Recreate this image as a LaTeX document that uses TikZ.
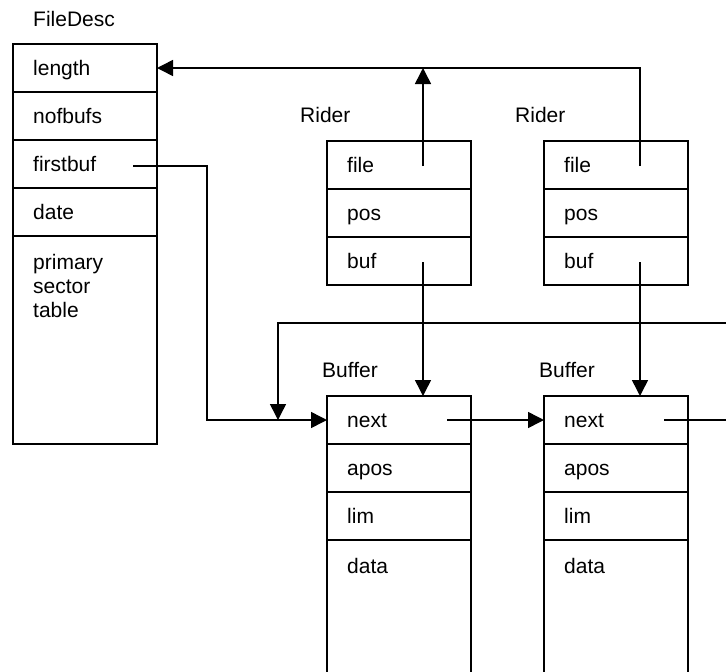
\documentclass[tikz,border=0pt]{standalone}
\usepackage{fontspec}
\setmainfont{Liberation Sans}
\usetikzlibrary{arrows.meta}
\begin{document}
\begin{tikzpicture}[x=1pt,y=-1pt,
  cell/.style={draw, line width=1.9pt, outer sep=0pt, inner sep=0pt,
    minimum width=144pt, minimum height=48pt, anchor=north west},
  boxline/.style={line width=1.9pt},
  txt/.style={anchor=base west, inner sep=0pt, font=\fontsize{21}{24}\selectfont},
  conn/.style={line width=1.5pt},
  arr/.style={conn, -{Triangle[length=16pt,width=16pt]}}]
\useasboundingbox (0,0) rectangle (726,672);
\clip (0,0) rectangle (726,672);

% ---------- FileDesc ----------
\node[txt] (fd-title) at (33,26) {FileDesc};
\node[cell] (fd-length) at (13,44) {};
\node[cell] (fd-nofbufs) at (13,92) {};
\node[cell] (fd-firstbuf) at (13,140) {};
\node[cell] (fd-date) at (13,188) {};
\node[cell, minimum height=208pt] (fd-table) at (13,236) {};
\node[txt] (fd-length-t) at (33,75) {length};
\node[txt] (fd-nofbufs-t) at (33,123) {nofbufs};
\node[txt] (fd-firstbuf-t) at (33,171) {firstbuf};
\node[txt] (fd-date-t) at (33,219) {date};
\node[txt] (fd-table-t1) at (33,269) {primary};
\node[txt] (fd-table-t2) at (33,293) {sector};
\node[txt] (fd-table-t3) at (33,317) {table};

% ---------- Riders ----------
\node[txt] (rl-title) at (300,122) {Rider};
\node[cell] (rl-file) at (327,141) {};
\node[cell] (rl-pos) at (327,189) {};
\node[cell] (rl-buf) at (327,237) {};
\node[txt] (rl-file-t) at (347,172) {file};
\node[txt] (rl-pos-t) at (347,220) {pos};
\node[txt] (rl-buf-t) at (347,268) {buf};

\node[txt] (rr-title) at (515,122) {Rider};
\node[cell] (rr-file) at (544,141) {};
\node[cell] (rr-pos) at (544,189) {};
\node[cell] (rr-buf) at (544,237) {};
\node[txt] (rr-file-t) at (564,172) {file};
\node[txt] (rr-pos-t) at (564,220) {pos};
\node[txt] (rr-buf-t) at (564,268) {buf};

% ---------- Buffers ----------
\node[txt] (bl-title) at (322,377) {Buffer};
\node[cell] (bl-next) at (327,396) {};
\node[cell] (bl-apos) at (327,444) {};
\node[cell] (bl-lim) at (327,492) {};
\draw[boxline] (bl-lim.south west) -- ++(0,150);
\draw[boxline] (bl-lim.south east) -- ++(0,150);
\node[txt] (bl-next-t) at (347,427) {next};
\node[txt] (bl-apos-t) at (347,475) {apos};
\node[txt] (bl-lim-t) at (347,523) {lim};
\node[txt] (bl-data-t) at (347,573) {data};

\node[txt] (br-title) at (539,377) {Buffer};
\node[cell] (br-next) at (544,396) {};
\node[cell] (br-apos) at (544,444) {};
\node[cell] (br-lim) at (544,492) {};
\draw[boxline] (br-lim.south west) -- ++(0,150);
\draw[boxline] (br-lim.south east) -- ++(0,150);
\node[txt] (br-next-t) at (564,427) {next};
\node[txt] (br-apos-t) at (564,475) {apos};
\node[txt] (br-lim-t) at (564,523) {lim};
\node[txt] (br-data-t) at (564,573) {data};

% ---------- connectors ----------
\coordinate (rl-file-pt) at (423,166);
\coordinate (rr-file-pt) at (640,166);
\coordinate (fd-fb-pt) at (133,166);
\coordinate (rl-buf-pt) at (423,262);
\coordinate (rr-buf-pt) at (640,262);
\coordinate (bl-next-pt) at (447,420);
\coordinate (br-next-pt) at (664,420);
\coordinate (fb-bend) at (207,166);
\coordinate (loop-in) at (740,323);
\coordinate (loop-bend) at (278,323);
\coordinate (next-out) at (740,420);

\draw[arr] (rl-file-pt) -- (rl-file-pt |- fd-length.east);
\draw[arr] (rr-file-pt) |- (fd-length.east);
\draw[arr] (fd-fb-pt) -- (fb-bend) |- (bl-next.west);
\draw[arr] (rl-buf-pt) -- (rl-buf-pt |- bl-next.north);
\draw[arr] (rr-buf-pt) -- (rr-buf-pt |- br-next.north);
\draw[arr] (bl-next-pt) -- (br-next.west);
\draw[conn] (br-next-pt) -- (next-out);
\draw[arr] (loop-in) -- (loop-bend) -- (loop-bend |- bl-next.west);
\end{tikzpicture}
\end{document}
